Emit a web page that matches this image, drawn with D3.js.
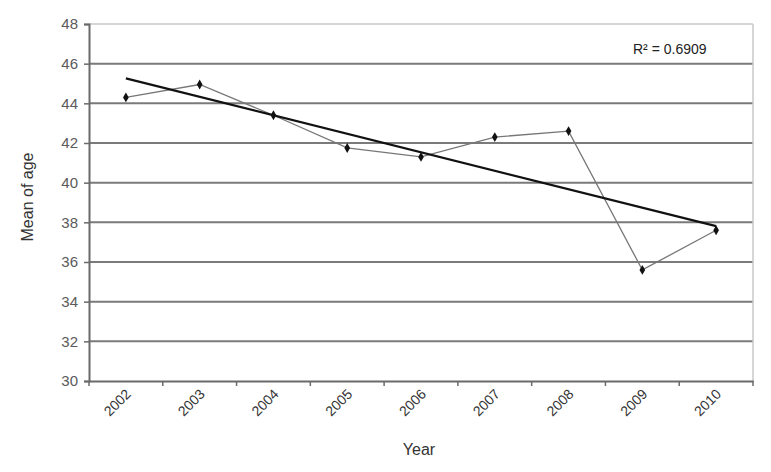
<!DOCTYPE html>
<html><head><meta charset="utf-8">
<script src="https://cdn.jsdelivr.net/npm/d3@7"></script>
<style>body{margin:0;background:#fff}svg{display:block}</style>
</head><body>
<svg id="c" width="771" height="472"></svg>
<script>
const years = ["2002","2003","2004","2005","2006","2007","2008","2009","2010"];
const meanAge = [44.3, 44.95, 43.4, 41.75, 41.3, 42.3, 42.6, 35.6, 37.6];
const yTicks = [30,32,34,36,38,40,42,44,46,48];
const r2Label = "R\u00B2 = 0.6909";

const svg = d3.select("#c");
const L = 89, R = 753, T = 24, B = 381;
const x = d3.scaleBand().domain(years).range([L, R]);
const y = d3.scaleLinear().domain([30, 48]).range([B, T]);
const font = "Liberation Sans, Arial, sans-serif";

// gridlines
svg.append("g").selectAll("line").data(yTicks.filter(d => d > 30)).join("line")
  .attr("x1", L).attr("x2", R)
  .attr("y1", d => y(d)).attr("y2", d => y(d))
  .attr("stroke", d => d === 48 ? "#c8c8c8" : "#7a7a7a")
  .attr("stroke-width", d => d === 48 ? 1.5 : 2);
// right border
svg.append("line").attr("x1", R).attr("x2", R).attr("y1", T).attr("y2", B)
  .attr("stroke", "#c8c8c8").attr("stroke-width", 1.5);

// y axis
const ya = svg.append("g").attr("transform", `translate(${L},0)`)
  .call(d3.axisLeft(y).tickValues(yTicks).tickSize(5).tickPadding(6));
ya.select(".domain").attr("stroke", "#6a6a6a").attr("stroke-width", 2);
ya.selectAll(".tick line").attr("stroke", "#6a6a6a").attr("stroke-width", 1.5);
ya.selectAll("text").attr("font-family", font).attr("font-size", 15).attr("fill", "#5a5a5a");

// x axis
const xa = svg.append("g").attr("transform", `translate(0,${B})`)
  .call(d3.axisBottom(x).tickSize(0).tickFormat(""));
xa.select(".domain").attr("stroke", "#6a6a6a").attr("stroke-width", 2);
// category boundary ticks
const bounds = years.map(d => x(d)).concat([R]);
svg.append("g").selectAll("line").data(bounds).join("line")
  .attr("x1", d => d).attr("x2", d => d).attr("y1", B).attr("y2", B + 5)
  .attr("stroke", "#6a6a6a").attr("stroke-width", 1.5);
svg.append("g").selectAll("text").data(years).join("text")
  .attr("transform", d => `translate(${x(d) + x.bandwidth()/2 + 6},${B + 14}) rotate(-45)`)
  .attr("text-anchor", "end").attr("font-family", font).attr("font-size", 14)
  .attr("fill", "#333").text(d => d);

// data line
const cx = d => x(d) + x.bandwidth()/2;
const pts = years.map((d, i) => [cx(d), y(meanAge[i])]);
svg.append("path").attr("d", d3.line()(pts)).attr("fill", "none")
  .attr("stroke", "#777").attr("stroke-width", 1.3);

// linear trend
const n = meanAge.length;
const mx = (n - 1) / 2, my = d3.mean(meanAge);
let sxy = 0, sxx = 0;
meanAge.forEach((v, i) => { sxy += (i - mx) * (v - my); sxx += (i - mx) * (i - mx); });
const slope = sxy / sxx, icpt = my - slope * mx;
svg.append("line")
  .attr("x1", cx(years[0])).attr("y1", y(icpt))
  .attr("x2", cx(years[n-1])).attr("y2", y(icpt + slope * (n - 1)))
  .attr("stroke", "#111").attr("stroke-width", 2.2);

// markers
svg.append("g").selectAll("path").data(pts).join("path")
  .attr("transform", d => `translate(${d[0]},${d[1]})`)
  .attr("d", d3.symbol(d3.symbolDiamond, 28)).attr("fill", "#111");

// R² label
svg.append("text").attr("x", 633).attr("y", 54).attr("font-family", font)
  .attr("font-size", 14).attr("fill", "#222").text(r2Label);

// axis titles
svg.append("text").attr("transform", "translate(33,197) rotate(-90)")
  .attr("text-anchor", "middle").attr("font-family", font).attr("font-size", 16)
  .attr("fill", "#333").text("Mean of age");
svg.append("text").attr("x", 419).attr("y", 455).attr("text-anchor", "middle")
  .attr("font-family", font).attr("font-size", 16).attr("fill", "#333").text("Year");
</script>
</body></html>
